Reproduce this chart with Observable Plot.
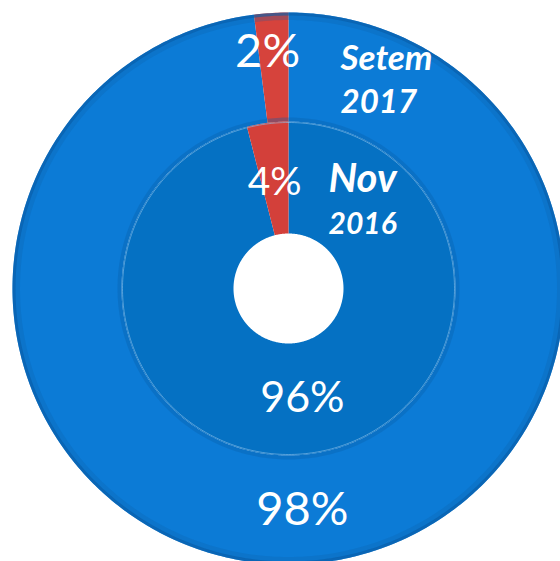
<!DOCTYPE html>
<html><head><meta charset="utf-8">
<script src="https://cdn.jsdelivr.net/npm/d3@7"></script>
<script src="https://cdn.jsdelivr.net/npm/@observablehq/plot@0.6"></script>
<style>body{margin:0;background:#fff}#chart svg{display:block}</style>
</head><body><div id="chart"></div>
<script>
// ---- data ----
const rings = ["Nov 2016", "Setem 2017"];
const ringNameLine1 = ["Nov", "Setem"];
const ringNameLine2 = ["2016", "2017"];
const categories = ["Maioria", "Minoria"];
const nov2016 = [96, 4];
const setem2017 = [98, 2];
const seriesValues = [nov2016, setem2017];

// ---- layout ----
const W = 560, H = 561;
const cx = 288, cy = 288;          // centre in pixels
const radii = [[55, 167], [167, 276]]; // inner ring, outer ring
const fills = {
  "Nov 2016|Maioria": "#0571c3",
  "Nov 2016|Minoria": "#d3403a",
  "Setem 2017|Maioria": "#0c7bd6",
  "Setem 2017|Minoria": "#d6433c"
};

const pie = d3.pie().sort(null).startAngle(0).endAngle(2 * Math.PI);
const polys = [];
const labels = [];
rings.forEach((ring, i) => {
  const [r0, r1] = radii[i];
  const arcs = pie(seriesValues[i]);
  arcs.forEach((a, j) => {
    const key = ring + "|" + categories[j];
    const n = Math.max(4, Math.ceil((a.endAngle - a.startAngle) / 0.01));
    const pts = [];
    for (let k = 0; k <= n; k++) {
      const t = a.startAngle + (a.endAngle - a.startAngle) * k / n;
      pts.push({x: r1 * Math.sin(t), y: r1 * Math.cos(t), key});
    }
    for (let k = n; k >= 0; k--) {
      const t = a.startAngle + (a.endAngle - a.startAngle) * k / n;
      pts.push({x: r0 * Math.sin(t), y: r0 * Math.cos(t), key});
    }
    polys.push(...pts);
    const m = (a.startAngle + a.endAngle) / 2, rm = (r0 + r1) / 2;
    labels.push({ring: i, small: a.value < 10, x: rm * Math.sin(m), y: rm * Math.cos(m), text: a.value + "%"});
  });
});

function circle(r, key) {
  const out = [];
  for (let k = 0; k <= 360; k++) {
    const t = k * Math.PI / 180;
    out.push({x: r * Math.sin(t), y: r * Math.cos(t), key});
  }
  return out;
}

const font = "Lato, 'Open Sans', sans-serif";
const names = rings.map((r, i) => ({
  l1: ringNameLine1[i], l2: ringNameLine2[i],
  x: i === 1 ? 52 : 40,
  y1: i === 1 ? (radii[1][0] + radii[1][1]) / 2 + 8 : (radii[0][0] + radii[0][1]) / 2 - 2,
  y2: i === 1 ? (radii[1][0] + radii[1][1]) / 2 - 35 : (radii[0][0] + radii[0][1]) / 2 - 47
}));

const chart = Plot.plot({
  width: W, height: H,
  margin: 0,
  x: {domain: [-cx, W - cx], axis: null},
  y: {domain: [-(H - cy), cy], axis: null},
  color: {domain: Object.keys(fills), range: Object.values(fills)},
  style: {background: "#fff"},
  marks: [
    Plot.line(polys, {x: "x", y: "y", z: "key", fill: "key", stroke: "none", curve: "linear"}),
    // bevel shading
    Plot.line(circle(radii[1][1] - 1.5, "o"), {x: "x", y: "y", stroke: "#0a5ea8", strokeWidth: 3, strokeOpacity: 0.7}),
    Plot.line(circle(radii[1][1] - 5, "o2"), {x: "x", y: "y", stroke: "#0a5ea8", strokeWidth: 5, strokeOpacity: 0.25}),
    Plot.line(circle(radii[1][0] + 2, "m"), {x: "x", y: "y", stroke: "#0a5ea8", strokeWidth: 4, strokeOpacity: 0.35}),
    Plot.line(circle(radii[0][1] - 1, "mi"), {x: "x", y: "y", stroke: "#8cc0ea", strokeWidth: 1, strokeOpacity: 0.6}),
    // percentage labels
    Plot.text(labels.filter(d => d.ring === 1 && d.small), {x: "x", y: "y", text: "text", dx: -7, dy: -15, fill: "white", fontSize: 47, fontFamily: font}),
    Plot.text(labels.filter(d => d.ring === 0 && d.small), {x: "x", y: "y", text: "text", dy: 4, fill: "white", fontSize: 39, fontFamily: font}),
    Plot.text(labels.filter(d => d.ring === 1 && !d.small), {x: "x", y: "y", text: "text", fill: "white", fontSize: 47, fontFamily: font}),
    Plot.text(labels.filter(d => d.ring === 0 && !d.small), {x: "x", y: "y", text: "text", fill: "white", fontSize: 43, fontFamily: font}),
    // ring names
    Plot.text([names[1]], {x: "x", y: "y1", text: "l1", textAnchor: "start", fill: "white", fontSize: 35, fontWeight: "bold", fontStyle: "italic", fontFamily: font}),
    Plot.text([names[1]], {x: "x", y: "y2", text: "l2", textAnchor: "start", fill: "white", fontSize: 33, fontWeight: "bold", fontStyle: "italic", fontFamily: font}),
    Plot.text([names[0]], {x: "x", y: "y1", text: "l1", textAnchor: "start", fill: "white", fontSize: 40, fontWeight: "bold", fontStyle: "italic", fontFamily: font}),
    Plot.text([names[0]], {x: "x", y: "y2", text: "l2", textAnchor: "start", fill: "white", fontSize: 30, fontWeight: "bold", fontStyle: "italic", fontFamily: font})
  ]
});
document.getElementById("chart").append(chart);
</script>
</body></html>
